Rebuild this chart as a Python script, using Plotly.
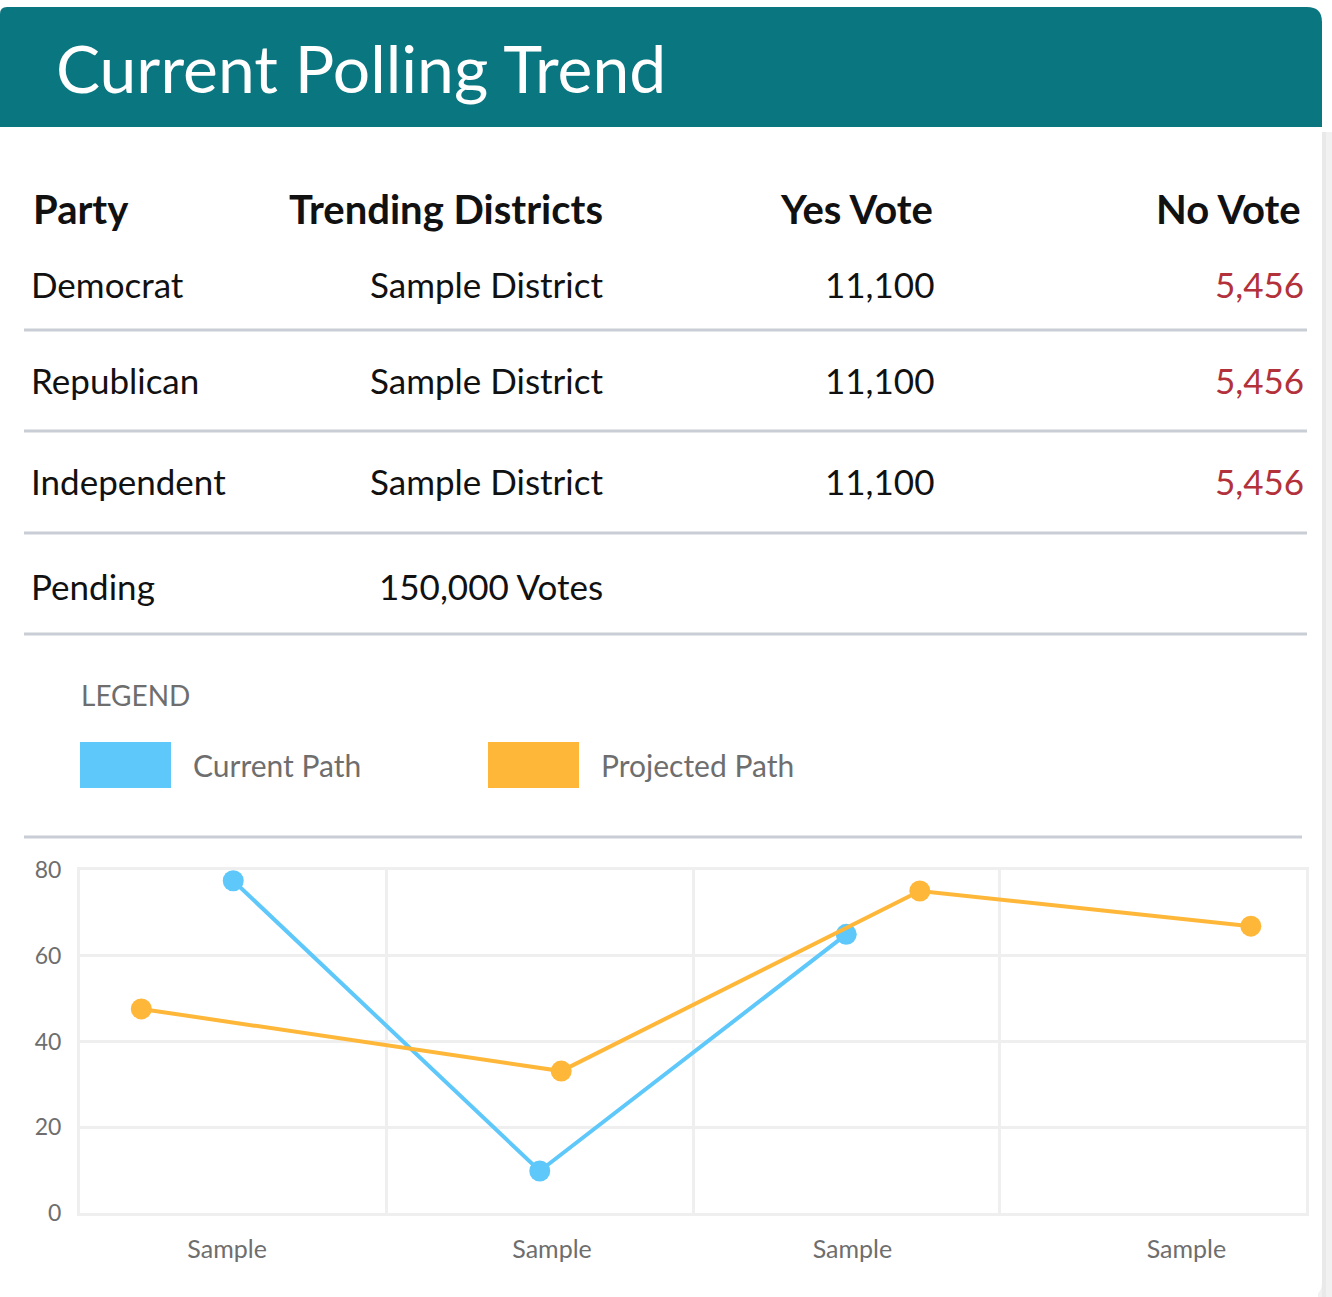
import plotly.graph_objects as go

W, H = 1332, 1297

# ---------------- data ----------------
title_text = "Current Polling Trend"
table_headers = ["Party", "Trending Districts", "Yes Vote", "No Vote"]
parties = ["Democrat", "Republican", "Independent", "Pending"]
districts = ["Sample District", "Sample District", "Sample District", "150,000 Votes"]
yes_votes = [11100, 11100, 11100, None]
no_votes = [5456, 5456, 5456, None]

legend_title = "LEGEND"
series_names = ["Current Path", "Projected Path"]

x_tick_vals = [0.48, 1.54, 2.52, 3.61]
x_tick_text = ["Sample", "Sample", "Sample", "Sample"]
y_ticks = [0, 20, 40, 60, 80]

current_x = [0.5, 1.5, 2.5]
current_y = [77.5, 9.8, 65.0]
projected_x = [0.2, 1.57, 2.74, 3.82]
projected_y = [47.6, 33.1, 75.1, 66.9]

# ---------------- styles ----------------
TEAL = "#0a7680"
BLUE = "#5ec8fa"
ORANGE = "#ffb739"
RED = "#b3313a"
SEP = "#c9cdd6"
GRID = "#efefef"
GRAY_TXT = "#6e6e6e"
FONT = "Lato"


def X(px):
    return px / W


def Y(py):
    return 1 - py / H


fig = go.Figure()

fig.add_trace(go.Scatter(
    x=current_x, y=current_y, mode="lines+markers", name=series_names[0],
    line=dict(color=BLUE, width=4), marker=dict(color=BLUE, size=21),
    showlegend=False, cliponaxis=False))
fig.add_trace(go.Scatter(
    x=projected_x, y=projected_y, mode="lines+markers", name=series_names[1],
    line=dict(color=ORANGE, width=4), marker=dict(color=ORANGE, size=21),
    showlegend=False, cliponaxis=False))

shapes = []
annotations = []

# right shadow strip
shapes.append(dict(type="rect", xref="paper", yref="paper", x0=X(1318), x1=X(1332),
                   y0=Y(1297), y1=Y(132), fillcolor="#f1f1f1", line=dict(width=0), layer="below"))
shapes.append(dict(type="rect", xref="paper", yref="paper", x0=X(1322), x1=X(1326),
                   y0=Y(1297), y1=Y(132), fillcolor="#e9e9e9", line=dict(width=0), layer="below"))
# white card right edge with rounded bottom-right corner
shapes.append(dict(type="path", xref="paper", yref="paper",
                   path=f"M {X(1300)},{Y(127)} L {X(1322)},{Y(127)} L {X(1322)},{Y(1282)} "
                        f"Q {X(1322)},{Y(1297)} {X(1307)},{Y(1297)} L {X(1300)},{Y(1297)} Z",
                   fillcolor="white", line=dict(width=0), layer="below"))
# header bar with rounded top corners
shapes.append(dict(type="path", xref="paper", yref="paper",
                   path=f"M {X(0)},{Y(127)} L {X(0)},{Y(14)} Q {X(0)},{Y(7)} {X(7)},{Y(7)} "
                        f"L {X(1307)},{Y(7)} Q {X(1322)},{Y(7)} {X(1322)},{Y(22)} "
                        f"L {X(1322)},{Y(127)} Z",
                   fillcolor=TEAL, line=dict(width=0), layer="below"))
annotations.append(dict(text=title_text, xref="paper", yref="paper", x=X(54), y=Y(68),
                        xanchor="left", yanchor="middle", showarrow=False,
                        font=dict(family=FONT, size=66, color="white")))

# table
col_x = [31, 605, 935, 1303]
col_anchor = ["left", "right", "right", "right"]
for t, cx, ca in zip(table_headers, col_x, col_anchor):
    annotations.append(dict(text=f"<b>{t}</b>", xref="paper", yref="paper", x=X(cx), y=Y(209),
                            xanchor=ca, yanchor="middle", showarrow=False,
                            font=dict(family=FONT, size=40, color="#111111")))

row_y = [284, 380, 481, 586]
sep_y = [330, 431, 533, 634]
for i, ry in enumerate(row_y):
    cells = [parties[i], districts[i],
             "" if yes_votes[i] is None else f"{yes_votes[i]:,}",
             "" if no_votes[i] is None else f"{no_votes[i]:,}"]
    colors = ["#111111", "#111111", "#111111", RED]
    xs = [29, 605, 936, 1306]
    for txt, cx, ca, cc in zip(cells, xs, col_anchor, colors):
        if txt:
            annotations.append(dict(text=txt, xref="paper", yref="paper", x=X(cx), y=Y(ry),
                                    xanchor=ca, yanchor="middle", showarrow=False,
                                    font=dict(family=FONT, size=35, color=cc)))
    shapes.append(dict(type="line", xref="paper", yref="paper", x0=X(24), x1=X(1307),
                       y0=Y(sep_y[i]), y1=Y(sep_y[i]), line=dict(color=SEP, width=3)))

# legend
annotations.append(dict(text=legend_title, xref="paper", yref="paper", x=X(79), y=Y(695),
                        xanchor="left", yanchor="middle", showarrow=False,
                        font=dict(family=FONT, size=28, color=GRAY_TXT)))
for name, color, bx in zip(series_names, [BLUE, ORANGE], [80, 488]):
    shapes.append(dict(type="rect", xref="paper", yref="paper", x0=X(bx), x1=X(bx + 91),
                       y0=Y(788), y1=Y(742), fillcolor=color, line=dict(width=0)))
    annotations.append(dict(text=name, xref="paper", yref="paper", x=X(bx + 111), y=Y(765),
                            xanchor="left", yanchor="middle", showarrow=False,
                            font=dict(family=FONT, size=30, color=GRAY_TXT)))
shapes.append(dict(type="line", xref="paper", yref="paper", x0=X(24), x1=X(1302),
                   y0=Y(837), y1=Y(837), line=dict(color=SEP, width=3)))

fig.update_layout(
    width=W, height=H, margin=dict(l=0, r=0, t=0, b=0, pad=0, autoexpand=False),
    paper_bgcolor="white", plot_bgcolor="rgba(0,0,0,0)",
    shapes=shapes, annotations=annotations, showlegend=False,
    xaxis=dict(domain=[X(80), X(1306)], range=[0, 4], tickmode="array",
               tickvals=x_tick_vals, ticktext=x_tick_text, showgrid=False, zeroline=False,
               showline=True, linecolor=GRID, linewidth=3, mirror=True, ticks="",
               ticklabelstandoff=12, automargin=False,
               tickfont=dict(family=FONT, size=25, color=GRAY_TXT),
               minor=dict(tickmode="array", tickvals=[0, 1, 2, 3, 4], showgrid=True,
                          gridcolor=GRID, gridwidth=3, ticks=""),
               fixedrange=True),
    yaxis=dict(domain=[Y(1213), Y(870)], range=[0, 80], tickmode="array", tickvals=y_ticks,
               showgrid=True, gridcolor=GRID, gridwidth=3, zeroline=False,
               showline=True, linecolor=GRID, linewidth=3, mirror=True, ticks="",
               ticklabelstandoff=11, automargin=False,
               tickfont=dict(family=FONT, size=23, color=GRAY_TXT), fixedrange=True),
    font=dict(family=FONT),
)

fig.write_html("out.html", config={"displayModeBar": False},
               post_script="document.body.style.margin='0';document.body.style.overflow='hidden';")
